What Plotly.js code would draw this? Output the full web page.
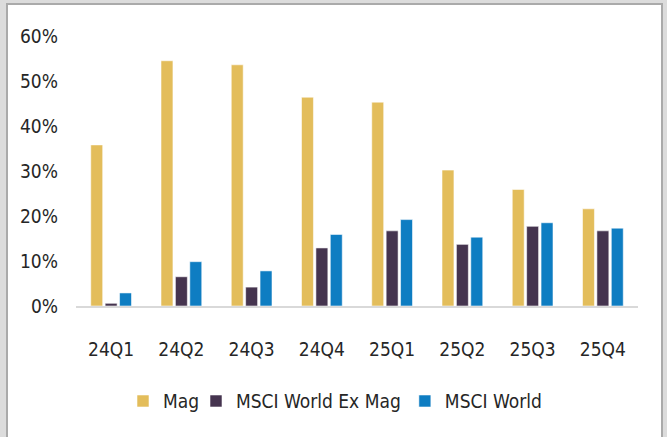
<!DOCTYPE html>
<html>
<head>
<meta charset="utf-8">
<script src="https://cdn.plot.ly/plotly-3.0.1.min.js"></script>
<style>
  html, body { margin: 0; padding: 0; background: #dcdcdc; width: 667px; height: 437px; overflow: hidden; }
  #frame { position: absolute; left: 6px; top: 3px; width: 653px; height: 440px;
           border: 2px solid #aaaaaa; border-bottom: none; background: #ffffff; }
  #chart { width: 653px; height: 432px; }
</style>
</head>
<body>
<div id="frame"><div id="chart"></div></div>
<script>
const categories = ["24Q1", "24Q2", "24Q3", "24Q4", "25Q1", "25Q2", "25Q3", "25Q4"];
const magValues = [35.8, 54.5, 53.6, 46.4, 45.3, 30.2, 25.9, 21.6];
const exMagValues = [0.6, 6.5, 4.2, 12.9, 16.7, 13.7, 17.7, 16.7];
const worldValues = [2.9, 9.85, 7.8, 15.9, 19.2, 15.3, 18.5, 17.3];
const seriesNames = ["Mag", "MSCI World Ex Mag", "MSCI World"];
const yTickValues = [0, 10, 20, 30, 40, 50, 60];
const yTickLabels = ["0%", "10%", "20%", "30%", "40%", "50%", "60%"];

const colors = ["#E3BD5B", "#45344F", "#0E7DC2"];
const FONT = "Liberation Sans Narrow, DejaVu Sans Condensed, Arial Narrow, sans-serif";
const TEXT_COLOR = "#262626";

const seriesValues = [magValues, exMagValues, worldValues];
const legendIds = ["legend", "legend2", "legend3"];
const legendX = [0.2389, 0.4487, 0.7165];

const traces = seriesValues.map((vals, i) => ({
  type: "bar",
  name: seriesNames[i],
  x: categories,
  y: vals,
  legend: legendIds[i],
  marker: { color: colors[i], line: { color: "rgba(255,255,255,0.55)", width: 1 } },
  hoverinfo: "skip"
}));

function legendAt(x) {
  return {
    orientation: "h",
    xref: "container",
    yref: "container",
    x: x,
    xanchor: "center",
    y: 0.083,
    yanchor: "middle",
    bgcolor: "rgba(0,0,0,0)",
    font: { family: FONT, size: 19, color: TEXT_COLOR },
    itemclick: false,
    itemdoubleclick: false
  };
}

const layout = {
  width: 653,
  height: 432,
  margin: { l: 68, r: 23, t: 31, b: 131 },
  paper_bgcolor: "#ffffff",
  plot_bgcolor: "#ffffff",
  barmode: "group",
  bargap: 0.385,
  bargroupgap: 0.17,
  font: { family: FONT, size: 19, color: TEXT_COLOR },
  xaxis: {
    showline: true,
    linecolor: "#d9d9d9",
    linewidth: 1.5,
    showgrid: false,
    zeroline: false,
    ticks: "",
    ticklabelstandoff: 26,
    tickfont: { family: FONT, size: 19, color: TEXT_COLOR },
    fixedrange: true
  },
  yaxis: {
    range: [0, 60],
    tickvals: yTickValues,
    ticktext: yTickLabels,
    showline: false,
    showgrid: false,
    zeroline: false,
    ticks: "",
    ticklabelstandoff: 17,
    tickfont: { family: FONT, size: 19, color: TEXT_COLOR },
    fixedrange: true
  },
  showlegend: true,
  legend: legendAt(legendX[0]),
  legend2: legendAt(legendX[1]),
  legend3: legendAt(legendX[2])
};

Plotly.newPlot("chart", traces, layout, { displayModeBar: false, staticPlot: true });
</script>
</body>
</html>
